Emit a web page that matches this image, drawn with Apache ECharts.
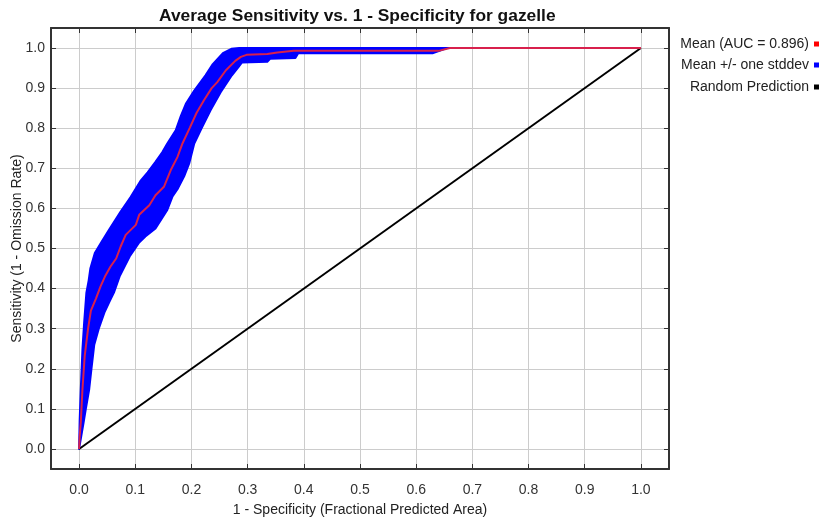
<!DOCTYPE html>
<html>
<head>
<meta charset="utf-8">
<script src="https://cdn.jsdelivr.net/npm/echarts@6/dist/echarts.min.js"></script>
<style>
html,body{margin:0;padding:0;background:#ffffff;}
#chart{width:820px;height:522px;}
</style>
</head>
<body>
<div id="chart"></div>
<script>
// ---- text ----
const titleText = 'Average Sensitivity vs. 1 - Specificity for gazelle';
const xAxisName = '1 - Specificity (Fractional Predicted Area)';
const yAxisName = 'Sensitivity (1 - Omission Rate)';
const legendNames = ['Mean (AUC = 0.896)', 'Mean +/- one stddev', 'Random Prediction'];

// ---- tick labels ----
const tickValues = [0, 0.1, 0.2, 0.3, 0.4, 0.5, 0.6, 0.7, 0.8, 0.9, 1.0];

// ---- mean ROC curve ----
const meanX = [0, 0.001, 0.003, 0.006, 0.010, 0.016, 0.021, 0.030, 0.038, 0.046, 0.056, 0.066, 0.074, 0.083, 0.101, 0.107, 0.125, 0.136, 0.151, 0.163, 0.175, 0.184, 0.197, 0.209, 0.222, 0.236, 0.246, 0.261, 0.278, 0.288, 0.298, 0.335, 0.353, 0.382, 0.640, 0.660, 1.0];
const meanY = [0, 0.030, 0.066, 0.149, 0.232, 0.300, 0.345, 0.375, 0.405, 0.430, 0.455, 0.475, 0.505, 0.534, 0.559, 0.584, 0.608, 0.633, 0.654, 0.695, 0.728, 0.762, 0.801, 0.838, 0.869, 0.900, 0.915, 0.944, 0.968, 0.978, 0.983, 0.985, 0.989, 0.993, 0.993, 1.0, 1.0];

// ---- mean + one stddev (upper edge of band) ----
const upperX = [0, 0.001, 0.003, 0.006, 0.009, 0.013, 0.017, 0.020, 0.028, 0.039, 0.053, 0.074, 0.092, 0.110, 0.122, 0.136, 0.148, 0.157, 0.172, 0.181, 0.190, 0.205, 0.225, 0.238, 0.256, 0.271, 0.285, 0.660];
const upperY = [0, 0.070, 0.149, 0.250, 0.315, 0.390, 0.420, 0.450, 0.489, 0.514, 0.546, 0.592, 0.629, 0.670, 0.690, 0.716, 0.740, 0.762, 0.795, 0.830, 0.861, 0.894, 0.932, 0.960, 0.987, 0.998, 1.0, 1.0];

// ---- mean - one stddev (lower edge of band) ----
const lowerX = [0, 0.008, 0.012, 0.018, 0.022, 0.027, 0.035, 0.045, 0.055, 0.062, 0.072, 0.090, 0.107, 0.118, 0.136, 0.157, 0.166, 0.176, 0.187, 0.196, 0.205, 0.218, 0.234, 0.252, 0.272, 0.285, 0.290, 0.335, 0.340, 0.385, 0.390, 0.629, 0.655];
const lowerY = [0, 0.066, 0.100, 0.149, 0.200, 0.260, 0.300, 0.340, 0.370, 0.390, 0.430, 0.480, 0.515, 0.530, 0.550, 0.596, 0.629, 0.650, 0.680, 0.712, 0.762, 0.800, 0.845, 0.890, 0.932, 0.955, 0.964, 0.966, 0.973, 0.975, 0.987, 0.987, 1.0];

// ---- random prediction ----
const randomX = [0, 1];
const randomY = [0, 1];

// ---- build ----
const zip = (xs, ys) => xs.map((x, i) => [x, ys[i]]);
const meanData = zip(meanX, meanY);
const bandData = zip(upperX, upperY).concat(zip(lowerX, lowerY).reverse());
const randomData = zip(randomX, randomY);

const FONT = '"Liberation Sans", Arial, sans-serif';
const frameColor = '#333333';
const gridColor = '#cccccc';

function makeAxis(isX, main) {
  const ax = {
    type: 'value',
    min: -0.05,
    max: 1.05,
    position: isX ? (main ? 'bottom' : 'top') : (main ? 'left' : 'right'),
    axisLine: { show: true, onZero: false, lineStyle: { color: frameColor, width: 2 } },
    axisTick: { show: true, inside: true, length: 5, customValues: tickValues, lineStyle: { color: frameColor, width: 1 } },
    axisLabel: main ? {
      show: true, customValues: tickValues,
      formatter: v => Number(v).toFixed(1),
      margin: isX ? 14 : 6, fontSize: 14, color: '#333', fontFamily: FONT
    } : { show: false },
    splitLine: main ? { show: true, lineStyle: { color: gridColor, width: 1 } } : { show: false }
  };
  if (main) {
    ax.name = isX ? xAxisName : yAxisName;
    ax.nameLocation = 'middle';
    ax.nameMoveOverlap = false;
    ax.nameGap = isX ? 34 : 27;
    ax.nameTextStyle = { fontSize: 14, color: '#222', fontFamily: FONT };
  }
  return ax;
}

const legendColors = ['#ff0000', '#0000ff', '#000000'];
const legendTops = [37, 58, 80];

const option = {
  animation: false,
  backgroundColor: '#ffffff',
  title: {
    text: titleText,
    left: 159,
    top: 8,
    padding: 0,
    textStyle: { fontSize: 17.4, fontWeight: 'bold', color: '#111', fontFamily: FONT }
  },
  legend: legendNames.map((n, i) => ({
    data: [{ name: n, icon: 'rect', itemStyle: { color: legendColors[i], borderWidth: 0 } }],
    orient: 'vertical',
    right: 1,
    top: legendTops[i],
    align: 'right',
    itemWidth: 5,
    itemHeight: 5,
    padding: 0,
    selectedMode: false,
    textStyle: { fontSize: 14, color: '#222', fontFamily: FONT }
  })),
  grid: { left: 51, right: 151, top: 28, bottom: 53, containLabel: false, outerBoundsMode: 'none' },
  xAxis: [makeAxis(true, true), makeAxis(true, false)],
  yAxis: [makeAxis(false, true), makeAxis(false, false)],
  series: [
    {
      name: legendNames[1],
      type: 'custom',
      coordinateSystem: 'cartesian2d',
      xAxisIndex: 0,
      yAxisIndex: 0,
      data: bandData,
      encode: { x: 0, y: 1 },
      itemStyle: { color: '#0000ff' },
      silent: true,
      z: 1,
      renderItem: function (params, api) {
        if (params.dataIndex !== 0) return null;
        const pts = bandData.map(p => api.coord(p));
        return {
          type: 'polygon',
          shape: { points: pts },
          style: { fill: '#0000ff', stroke: '#0000ff', lineWidth: 2, lineJoin: 'round' }
        };
      }
    },
    {
      name: legendNames[0],
      type: 'line',
      data: meanData,
      showSymbol: false,
      symbol: 'none',
      itemStyle: { color: '#ff0000' },
      lineStyle: { color: '#d8204c', width: 2 },
      silent: true,
      z: 3
    },
    {
      name: legendNames[2],
      type: 'line',
      data: randomData,
      showSymbol: false,
      symbol: 'none',
      itemStyle: { color: '#000000' },
      lineStyle: { color: '#000000', width: 2 },
      silent: true,
      z: 2
    }
  ]
};

const chart = echarts.init(document.getElementById('chart'), null, { renderer: 'canvas' });
chart.setOption(option);
</script>
</body>
</html>
